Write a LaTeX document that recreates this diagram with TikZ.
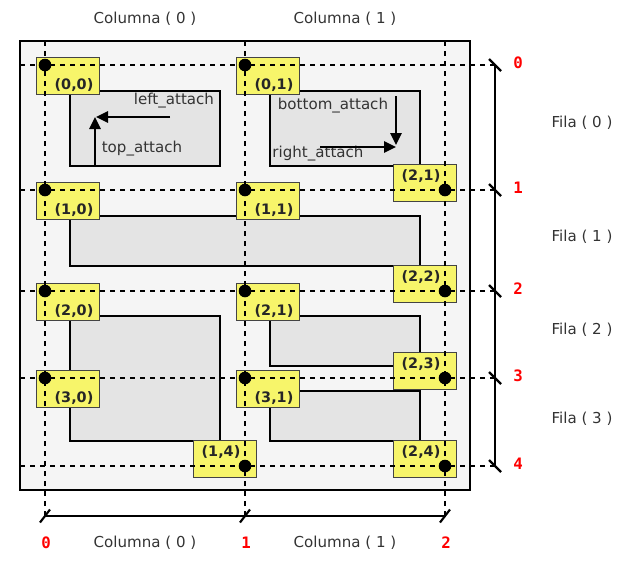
\documentclass[tikz,border=0pt]{standalone}
\usepackage{fontspec}
\setmainfont{DejaVu Sans}
\newfontfamily\nummono{DejaVu Sans Mono}
\usetikzlibrary{arrows.meta}

\begin{document}
\begin{tikzpicture}[x=0.75pt,y=0.75pt,yscale=-1,xscale=1,
  txt/.style={inner sep=0.75pt, text=black!80, font=\fontsize{11.3}{13}\selectfont},
  num/.style={inner sep=0.75pt, text=red, font=\nummono\bfseries\fontsize{11.8}{13}\selectfont},
  cell/.style={inner sep=0.75pt, text=black!85, font=\bfseries\fontsize{10.8}{12}\selectfont},
  widget/.style={draw=black, fill={rgb,255:red,228;green,228;blue,228}, line width=1.5},
  ybox/.style={draw={rgb,255:red,68;green,68;blue,68}, fill={rgb,255:red,247;green,245;blue,106}, line width=0.75, minimum width=47.25pt, minimum height=27.75pt, inner sep=0pt, anchor=north west},
  dashline/.style={dash pattern=on 3.75pt off 3.75pt, line width=1.7},
  attach/.style={line width=1.6, -{Triangle[length=9pt,width=8.5pt]}},
  axisline/.style={line width=1.6}
]
\useasboundingbox (0,0) rectangle (637,561);

% Outer container
\draw [line width=1.6, fill={rgb,255:red,245;green,245;blue,245}] (20,41) rectangle (470,490);

% Widgets
\draw [widget] (70,91) rectangle (220,166);
\draw [widget] (270,91) rectangle (420,166);
\draw [widget] (70,216) rectangle (420,266);
\draw [widget] (70,316) rectangle (220,441);
\draw [widget] (270,316) rectangle (420,366);
\draw [widget] (270,391) rectangle (420,441);

% Attach points, top left
\foreach \bx/\by/\lab [count=\i] in {45/65/{(0,0)},245/65/{(0,1)},45/190/{(1,0)},245/190/{(1,1)},45/291/{(2,0)},245/291/{(2,1)},45/378/{(3,0)},245/378/{(3,1)}}{
  \node [ybox] (tl\i) at (\bx-9,\by-8) {};
  \node [cell] (tl\i-lab) at ([shift={(-26,-10)}]tl\i.south east) {\lab};
}
% Attach points, bottom right
\foreach \bx/\by/\lab [count=\i] in {445/190/{(2,1)},445/291/{(2,2)},445/378/{(2,3)},245/466/{(1,4)},445/466/{(2,4)}}{
  \node [ybox] (br\i) at (\bx-52,\by-26) {};
  \node [cell] (br\i-lab) at ([shift={(28,12)}]br\i.north west) {\lab};
}

% Grid lines
\foreach \cx in {45,245,445} \draw [dashline] (\cx,41) -- (\cx,516);
\foreach \ry in {65,190,291,378,466} \draw [dashline] (20,\ry) -- (495,\ry);

% Dots
\foreach \bx/\by in {45/65,245/65,45/190,245/190,45/291,245/291,45/378,245/378,445/190,445/291,445/378,245/466,445/466}
  \fill (\bx,\by) circle (6.3);

% Right axis
\draw [axisline] (495,65) -- (495,466);
\foreach \ry in {65,190,291,378,466} \draw [axisline] (489,\ry-6) -- (501,\ry+6);
% Bottom axis
\draw [axisline] (45,516) -- (445,516);
\foreach \cx in {45,245,445} \draw [axisline] (\cx-5,522.5) -- (\cx+5,509.5);

% Text Node
\node [txt] (col0t) at (145,19) {Columna ( 0 )};
\node [txt] (col1t) at (345,19) {Columna ( 1 )};
\node [txt] (col0b) at (145,543) {Columna ( 0 )};
\node [txt] (col1b) at (345,543) {Columna ( 1 )};
\node [txt] (fila0) at (582,123) {Fila ( 0 )};
\node [txt] (fila1) at (582,237) {Fila ( 1 )};
\node [txt] (fila2) at (582,330) {Fila ( 2 )};
\node [txt] (fila3) at (582,419) {Fila ( 3 )};
% Red indices
\foreach \ry/\k in {65/0,190/1,291/2,378/3,466/4} \node [num] (row\k) at (518,\ry-2.5) {\k};
\foreach \cx/\k in {45/0,245/1,445/2} \node [num] (cnum\k) at (\cx+1,543) {\k};

% Attach labels
\node [txt] (leftlab) at (174,101) {left\_attach};
\node [txt] (toplab) at (142,149) {top\_attach};
\node [txt] (bottomlab) at (333,106) {bottom\_attach};
\node [txt] (rightlab) at (318,154) {right\_attach};

% Connection
\coordinate (la-s) at (170,117); \coordinate (la-e) at (96,117);
\coordinate (ta-s) at (95,166); \coordinate (ta-e) at (95,117);
\coordinate (ba-s) at (396,96); \coordinate (ba-e) at (396,145);
\coordinate (ra-s) at (320,147); \coordinate (ra-e) at (396,147);
\draw [attach] (la-s) -- (la-e);
\draw [attach] (ta-s) -- (ta-e);
\draw [attach] (ba-s) -- (ba-e);
\draw [attach] (ra-s) -- (ra-e);

\end{tikzpicture}
\end{document}
